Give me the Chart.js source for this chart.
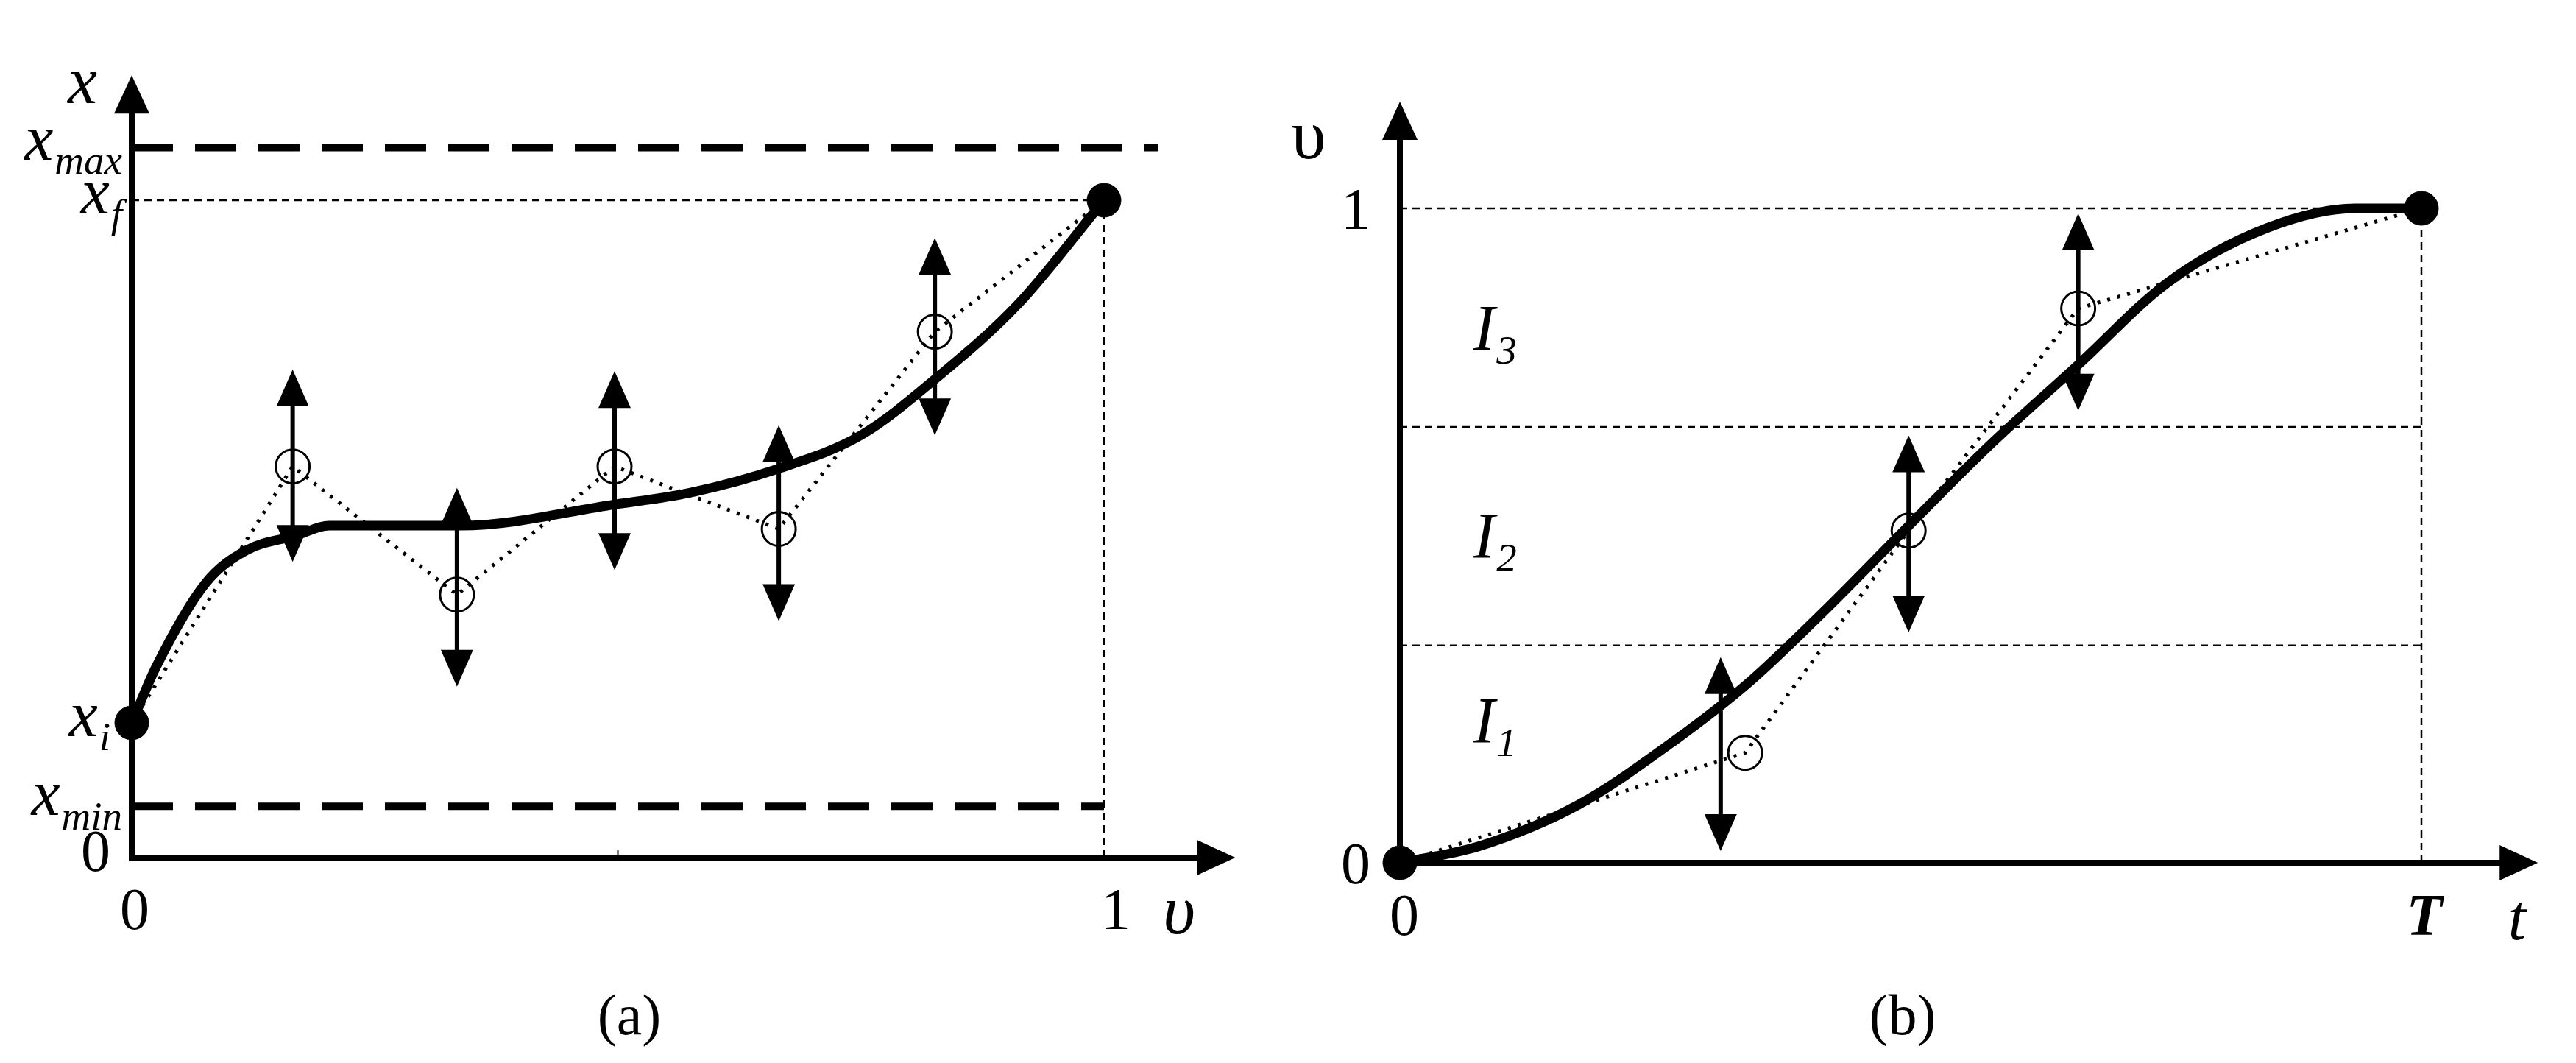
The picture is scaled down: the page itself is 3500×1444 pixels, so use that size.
<!DOCTYPE html>
<html>
<head>
<meta charset="utf-8">
<script src="https://cdn.jsdelivr.net/npm/chart.js@4.4.0/dist/chart.umd.min.js"></script>
<style>
  body { margin: 0; background: #fff; width: 3500px; height: 1444px; overflow: hidden; }
  .box { position: absolute; top: 0; width: 1750px; height: 1444px; }
  #boxA { left: 0; }
  #boxB { left: 1750px; }
  .warm { position: absolute; left: -999px; font-family: "Liberation Serif"; }
</style>
</head>
<body>
<div class="warm"><i>x</i> x <i><b>T</b></i></div>
<div class="box" id="boxA"><canvas id="chartA"></canvas></div>
<div class="box" id="boxB"><canvas id="chartB"></canvas></div>
<script>
// ---- panel (a): x versus v ----
const levelsA = { xmax: 1.08, xf: 1.0, xi: 0.205, xmin: 0.078 };
const curveA = [
  { x: 0, y: 0.205 }, { x: 0.025, y: 0.29 }, { x: 0.076, y: 0.4175 }, { x: 0.118, y: 0.4675 },
  { x: 0.169, y: 0.49 }, { x: 0.203, y: 0.505 }, { x: 0.338, y: 0.505 }, { x: 0.498, y: 0.5375 },
  { x: 0.574, y: 0.555 }, { x: 0.667, y: 0.5925 }, { x: 0.75, y: 0.6425 }, { x: 0.828, y: 0.73 },
  { x: 0.912, y: 0.8425 }, { x: 1, y: 1.0 }
];
const controlA = [
  { x: 0, y: 0.205 }, { x: 0.1655, y: 0.595 }, { x: 0.3345, y: 0.4 }, { x: 0.4966, y: 0.595 },
  { x: 0.6655, y: 0.5 }, { x: 0.826, y: 0.8 }, { x: 1, y: 1.0 }
];
// vertical arrows: x, top, bottom
const arrowsA = [
  [0.1655, 0.7425, 0.45], [0.3345, 0.5625, 0.26], [0.4966, 0.74, 0.4375],
  [0.6655, 0.6575, 0.36], [0.826, 0.9425, 0.6425]
];

// ---- panel (b): v versus t ----
const bandsB = [0.332, 0.666, 1.0];
const curveB = [
  { x: 0, y: 0 }, { x: 0.077, y: 0.025 }, { x: 0.174, y: 0.088 }, { x: 0.27, y: 0.188 },
  { x: 0.342, y: 0.276 }, { x: 0.415, y: 0.384 }, { x: 0.495, y: 0.51 }, { x: 0.576, y: 0.636 },
  { x: 0.664, y: 0.761 }, { x: 0.752, y: 0.887 }, { x: 0.849, y: 0.97 }, { x: 0.935, y: 1 },
  { x: 1, y: 1 }
];
const controlB = [
  { x: 0, y: 0 }, { x: 0.338, y: 0.168 }, { x: 0.498, y: 0.5075 }, { x: 0.664, y: 0.847 }, { x: 1, y: 1 }
];
const arrowsB = [[0.314, 0.314, 0.018], [0.498, 0.653, 0.352], [0.664, 0.992, 0.691]];

const SERIF = '"Liberation Serif", "DejaVu Serif", serif';

function hline(y, x0, x1, width, dash) {
  return {
    data: [{ x: x0, y: y }, { x: x1, y: y }], borderColor: '#000', borderWidth: width,
    borderDash: dash, pointRadius: 0, clip: false, order: 5
  };
}
function vline(x, y0, y1, width, dash) {
  return {
    data: [{ x: x, y: y0 }, { x: x, y: y1 }], borderColor: '#000', borderWidth: width,
    borderDash: dash, pointRadius: 0, clip: false, order: 5
  };
}

function arrowHead(ctx, x, y, dir, len, half) {
  ctx.beginPath();
  if (dir === 'up') { ctx.moveTo(x, y); ctx.lineTo(x - half, y + len); ctx.lineTo(x + half, y + len); }
  if (dir === 'down') { ctx.moveTo(x, y); ctx.lineTo(x - half, y - len); ctx.lineTo(x + half, y - len); }
  if (dir === 'right') { ctx.moveTo(x, y); ctx.lineTo(x - len, y - half); ctx.lineTo(x - len, y + half); }
  ctx.closePath();
  ctx.fill();
}

// text with optional subscript
function label(ctx, x, y, main, sub, opts) {
  opts = opts || {};
  const size = opts.size || 72;
  const style = opts.italic === false ? '' : 'italic ';
  const weight = opts.bold ? 'bold ' : '';
  ctx.font = style + weight + size + 'px ' + SERIF;
  const mw = ctx.measureText(main).width;
  let sw = 0;
  const subSize = Math.round(size * 0.62);
  if (sub) {
    ctx.font = style + subSize + 'px ' + SERIF;
    sw = ctx.measureText(sub).width;
  }
  let left = x;
  if (opts.align === 'right') left = x - mw - sw - 2;
  if (opts.align === 'center') left = x - (mw + sw) / 2;
  ctx.textBaseline = 'alphabetic';
  ctx.textAlign = 'left';
  ctx.fillStyle = '#000';
  ctx.font = style + weight + size + 'px ' + SERIF;
  ctx.fillText(main, left, y);
  if (sub) {
    ctx.font = style + subSize + 'px ' + SERIF;
    ctx.fillText(sub, left + mw + 2, y + size * 0.22);
  }
}

function decorPlugin(cfg) {
  return {
    id: 'decor',
    afterDatasetsDraw(chart) {
      const ctx = chart.ctx;
      const xs = chart.scales.x, ys = chart.scales.y;
      const px = v => xs.getPixelForValue(v), py = v => ys.getPixelForValue(v);
      ctx.save();
      ctx.fillStyle = '#000';
      ctx.strokeStyle = '#000';
      ctx.lineWidth = 8;
      ctx.beginPath();
      ctx.moveTo(px(0), py(0)); ctx.lineTo(px(0), py(cfg.yTop) + 40);
      ctx.moveTo(px(0) - 4, py(0)); ctx.lineTo(px(cfg.xEnd) - 40, py(0));
      ctx.stroke();
      arrowHead(ctx, px(0), py(cfg.yTop), 'up', 52, 24);
      arrowHead(ctx, px(cfg.xEnd), py(0), 'right', 52, 24);
      ctx.lineWidth = 6;
      cfg.arrows.forEach(a => {
        const x = px(a[0]), t = py(a[1]), b = py(a[2]);
        ctx.beginPath(); ctx.moveTo(x, t + 40); ctx.lineTo(x, b - 40); ctx.stroke();
        arrowHead(ctx, x, t, 'up', 50, 22);
        arrowHead(ctx, x, b, 'down', 50, 22);
      });
      cfg.text(ctx, px, py);
      ctx.restore();
    }
  };
}

function makeChart(id, datasets, pad, plugin) {
  return new Chart(document.getElementById(id), {
    type: 'line',
    data: { datasets: datasets },
    options: {
      responsive: true,
      maintainAspectRatio: false,
      animation: false,
      layout: { padding: pad },
      scales: {
        x: { type: 'linear', min: 0, max: 1, display: false },
        y: { type: 'linear', min: 0, max: 1, display: false }
      },
      plugins: { legend: { display: false }, tooltip: { enabled: false } }
    },
    plugins: [plugin]
  });
}

const mainCurve = (data) => ({
  data: data, borderColor: '#000', borderWidth: 13, pointRadius: 0,
  cubicInterpolationMode: 'monotone', clip: false, order: 1
});
const controlPoly = (data) => ({
  data: data, borderColor: '#000', borderWidth: 5, borderDash: [4, 10],
  pointRadius: data.map((p, i) => (i === 0 || i === data.length - 1) ? 0 : 23),
  pointBorderWidth: 3, pointBackgroundColor: 'rgba(0,0,0,0)', pointBorderColor: '#000',
  clip: false, order: 2
});
const endDots = (data) => ({
  data: data, showLine: false, pointRadius: 23, pointBackgroundColor: '#000',
  pointBorderColor: '#000', clip: false, order: 0
});

function build() {
  makeChart('chartA', [
    endDots([curveA[0], curveA[curveA.length - 1]]),
    mainCurve(curveA),
    controlPoly(controlA),
    hline(levelsA.xmax, 0, 1.056, 10, [56, 30]),
    hline(levelsA.xmin, 0, 1, 10, [56, 30]),
    hline(levelsA.xf, 0, 1, 2.5, [10, 7]),
    vline(1, 0, levelsA.xf, 2.5, [10, 7])
  ], { left: 179, right: 250, top: 272, bottom: 279 }, decorPlugin({
    yTop: 1.19, xEnd: 1.135, arrows: arrowsA,
    text(ctx, px, py) {
      label(ctx, 92, 140, 'x', null, { size: 90 });
      label(ctx, 166, py(levelsA.xmax) + 16, 'x', 'max', { align: 'right', size: 88 });
      label(ctx, 166, py(levelsA.xf) + 18, 'x', 'f', { align: 'right', size: 88 });
      label(ctx, 150, py(levelsA.xi) + 18, 'x', 'i', { align: 'right', size: 88 });
      label(ctx, 166, py(levelsA.xmin) + 12, 'x', 'min', { align: 'right', size: 88 });
      label(ctx, 152, py(0) + 18, '0', null, { align: 'right', italic: false, size: 80 });
      label(ctx, px(0) + 4, 1262, '0', null, { align: 'center', italic: false, size: 80 });
      label(ctx, px(1) + 16, 1262, '1', null, { align: 'center', italic: false, size: 80 });
      label(ctx, 1580, 1268, 'υ', null, { size: 96 });
      label(ctx, 855, 1405, '(a)', null, { align: 'center', italic: false, size: 78 });
      ctx.lineWidth = 2;
      ctx.beginPath(); ctx.moveTo(px(0.5), py(0)); ctx.lineTo(px(0.5), py(0) - 10); ctx.stroke();
    }
  }));

  const dsB = [
    endDots([curveB[0], curveB[curveB.length - 1]]),
    mainCurve(curveB),
    controlPoly(controlB),
    vline(1, 0, 1, 2.5, [10, 7])
  ];
  bandsB.forEach(b => dsB.push(hline(b, 0, 1, 2.5, [10, 7])));
  makeChart('chartB', dsB, { left: 152, right: 210, top: 283, bottom: 272 }, decorPlugin({
    yTop: 1.163, xEnd: 1.114, arrows: arrowsB,
    text(ctx, px, py) {
      label(ctx, 28, 215, 'υ', null, { align: 'center', italic: false, size: 96 });
      label(ctx, 114, py(1) + 28, '1', null, { align: 'right', italic: false, size: 80 });
      label(ctx, 114, py(0) + 28, '0', null, { align: 'right', italic: false, size: 80 });
      label(ctx, px(0) + 6, 1270, '0', null, { align: 'center', italic: false, size: 80 });
      label(ctx, px(1) + 4, 1270, 'T', null, { align: 'center', bold: true, size: 80 });
      label(ctx, px(1) + 130, 1276, 't', null, { align: 'center', size: 88 });
      label(ctx, 252, 475, 'I', '3', { size: 88 });
      label(ctx, 252, 757, 'I', '2', { size: 88 });
      label(ctx, 252, 1008, 'I', '1', { size: 88 });
      label(ctx, 835, 1405, '(b)', null, { align: 'center', italic: false, size: 78 });
    }
  }));
}

Promise.all([
  document.fonts.load('80px "Liberation Serif"'),
  document.fonts.load('italic 80px "Liberation Serif"'),
  document.fonts.load('italic bold 80px "Liberation Serif"')
]).catch(() => {}).then(build);
</script>
</body>
</html>
